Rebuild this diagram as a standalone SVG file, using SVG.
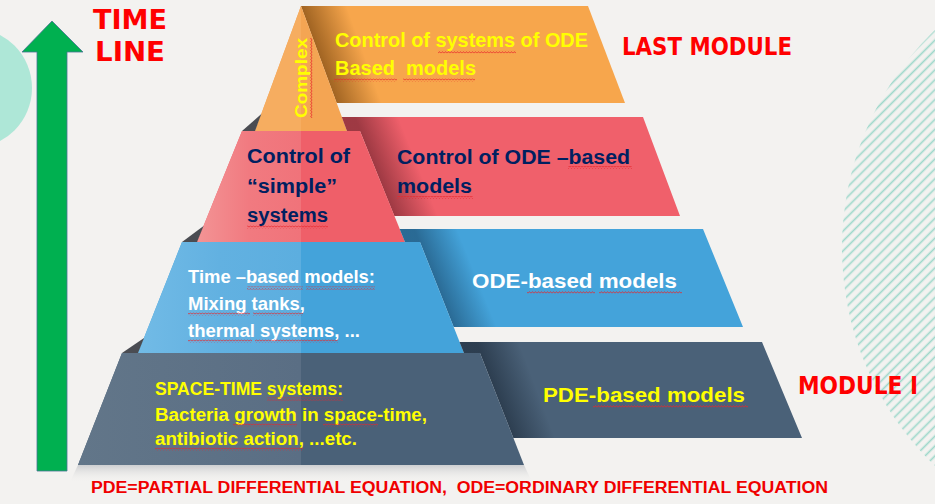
<svg xmlns="http://www.w3.org/2000/svg" width="935" height="504" viewBox="0 0 935 504">
<defs>
<style>
.title{font-family:"DejaVu Sans","Liberation Sans",sans-serif;font-weight:bold;fill:#ff0000}
.lbl{font-family:"Liberation Sans",Arial,sans-serif;font-weight:bold}
.yel{fill:#ffff00}
.navy{fill:#002060}
.wht{fill:#ffffff}
.wedge{fill:#2c2f36;opacity:.85}
.foot{font-family:"Liberation Sans",Arial,sans-serif;font-weight:bold;fill:#f00000}
.sq{fill:url(#squig)}
</style>
<pattern id="hatch" patternUnits="userSpaceOnUse" width="7" height="10" patternTransform="rotate(45)">
<line x1="3.5" y1="-1" x2="3.5" y2="11" stroke="#9fd8cb" stroke-width="1.7"/>
</pattern>
<pattern id="squig" patternUnits="userSpaceOnUse" width="3" height="3">
<path d="M0,2.4 L1.5,0.6 L3,2.4" fill="none" stroke="#e8262b" stroke-width="0.8"/>
</pattern>
<clipPath id="hatchClip"><circle cx="1144" cy="248" r="302"/></clipPath>
<linearGradient id="shOrange" gradientUnits="userSpaceOnUse" x1="324" y1="68.5" x2="364" y2="54">
<stop offset="0" stop-color="#5a2e00" stop-opacity="0.55"/><stop offset="1" stop-color="#5a2e00" stop-opacity="0"/>
</linearGradient>
<linearGradient id="shRed" gradientUnits="userSpaceOnUse" x1="382.5" y1="186" x2="420" y2="171">
<stop offset="0" stop-color="#3a0a12" stop-opacity="0.45"/><stop offset="1" stop-color="#3a0a12" stop-opacity="0"/>
</linearGradient>
<linearGradient id="shBlue" gradientUnits="userSpaceOnUse" x1="442" y1="298" x2="479" y2="283">
<stop offset="0" stop-color="#0a2540" stop-opacity="0.45"/><stop offset="1" stop-color="#0a2540" stop-opacity="0"/>
</linearGradient>
<linearGradient id="shSlate" gradientUnits="userSpaceOnUse" x1="502" y1="409" x2="539" y2="395">
<stop offset="0" stop-color="#0a1420" stop-opacity="0.45"/><stop offset="1" stop-color="#0a1420" stop-opacity="0"/>
</linearGradient>
<linearGradient id="redLeft" x1="0" y1="0" x2="1" y2="0">
<stop offset="0" stop-color="#f39495"/><stop offset="0.5" stop-color="#f17a80"/><stop offset="1" stop-color="#f0737a"/>
</linearGradient>
<linearGradient id="blueLeft" x1="0" y1="0" x2="1" y2="0">
<stop offset="0" stop-color="#72bbe6"/><stop offset="0.5" stop-color="#62b1e1"/><stop offset="1" stop-color="#5caedf"/>
</linearGradient>
<linearGradient id="slateLeft" x1="0" y1="0" x2="1" y2="0">
<stop offset="0" stop-color="#627689"/><stop offset="1" stop-color="#5a6e84"/>
</linearGradient>
<linearGradient id="reflect" x1="0" y1="0" x2="0" y2="1">
<stop offset="0" stop-color="#c4c6c9" stop-opacity="0.8"/><stop offset="1" stop-color="#f3f2f0" stop-opacity="0"/>
</linearGradient>
</defs>

<rect x="0" y="0" width="935" height="504" fill="#f3f2f0"/>

<g id="decor">
<circle cx="-28" cy="88" r="60" fill="#aee7d7"/>
<rect x="830" y="0" width="105" height="504" fill="url(#hatch)" clip-path="url(#hatchClip)"/>
</g>

<g id="timeline-arrow">
<polygon points="52,21 83,52 67,52 67,471 37,471 37,52 22,52" fill="#00b050" stroke="#4a7394" stroke-width="0.8"/>
</g>

<g id="timeline-label">
<text class="title" x="93" y="29" font-size="27" textLength="74" lengthAdjust="spacingAndGlyphs">TIME</text>
<text class="title" x="95" y="61" font-size="27" textLength="70" lengthAdjust="spacingAndGlyphs">LINE</text>
</g>

<g id="last-module-label">
<text class="title" x="622" y="55" font-size="24" textLength="170" lengthAdjust="spacingAndGlyphs">LAST MODULE</text>
</g>

<g id="module-1-label">
<text class="title" x="798" y="394" font-size="24" textLength="120" lengthAdjust="spacingAndGlyphs">MODULE I</text>
</g>

<g id="level-4-orange">
<polygon points="301,6 588,6 625,103 336.7,103" fill="#f7a64c"/>
<polygon points="301,6 588,6 625,103 336.7,103" fill="url(#shOrange)"/>
<polygon points="301,6 347,131 255,131" fill="#f4a553"/>
<polygon points="301,6 301,131 255,131" fill="#f6ad60"/>
<text class="lbl yel" x="335" y="47" font-size="20" textLength="253" lengthAdjust="spacingAndGlyphs">Control of systems of ODE</text>
<text class="lbl yel" x="335" y="75" font-size="20" textLength="141" lengthAdjust="spacingAndGlyphs" xml:space="preserve">Based  models</text>
<rect class="sq" x="438" y="50.5" width="78" height="3"/>
<rect class="sq" x="334" y="78.5" width="63" height="3"/>
<rect class="sq" x="403" y="78.5" width="72" height="3"/>
<g transform="translate(307,118) rotate(-90)">
<text class="lbl yel" x="0" y="0" font-size="17" textLength="80" lengthAdjust="spacingAndGlyphs">Complex</text>
<rect class="sq" x="0" y="3" width="80" height="3"/>
</g>
</g>

<g id="level-3-red">
<polygon points="341.8,117 643,117 680,216 394.4,216 360,131 347,131" fill="#f0606b"/>
<polygon points="341.8,117 643,117 680,216 394.4,216 360,131 347,131" fill="url(#shRed)"/>
<polygon class="wedge" points="242,131 261.3,114 255,131"/>
<polygon points="242,131 360,131 405,242 197,242" fill="#ef5f69"/>
<polygon points="242,131 301,131 301,242 197,242" fill="url(#redLeft)"/>
<text class="lbl navy" x="247" y="163" font-size="20" textLength="103" lengthAdjust="spacingAndGlyphs">Control of</text>
<text class="lbl navy" x="247" y="193" font-size="20" textLength="90" lengthAdjust="spacingAndGlyphs">“simple”</text>
<text class="lbl navy" x="247" y="222" font-size="20" textLength="81" lengthAdjust="spacingAndGlyphs">systems</text>
<rect class="sq" x="247" y="225.5" width="81" height="3"/>
<text class="lbl navy" x="397" y="164" font-size="20" textLength="233" lengthAdjust="spacingAndGlyphs">Control of ODE –based</text>
<text class="lbl navy" x="397" y="193" font-size="20" textLength="75" lengthAdjust="spacingAndGlyphs">models</text>
<rect class="sq" x="568" y="166" width="64" height="3"/>
<rect class="sq" x="397" y="196" width="76" height="3"/>
</g>

<g id="level-2-blue">
<polygon points="399.7,229 703,229 743,327 453.7,327 420,242 405,242" fill="#44a3da"/>
<polygon points="399.7,229 703,229 743,327 453.7,327 420,242 405,242" fill="url(#shBlue)"/>
<polygon class="wedge" points="182,242 203.5,226 197,242"/>
<polygon points="182,242 420,242 464,353 138,353" fill="#44a3da"/>
<polygon points="182,242 301,242 301,353 138,353" fill="url(#blueLeft)"/>
<text class="lbl wht" x="188" y="283" font-size="19" textLength="187" lengthAdjust="spacingAndGlyphs">Time –based models:</text>
<text class="lbl wht" x="188" y="310" font-size="19" textLength="117" lengthAdjust="spacingAndGlyphs">Mixing tanks,</text>
<text class="lbl wht" x="188" y="337" font-size="19" textLength="172" lengthAdjust="spacingAndGlyphs">thermal systems, ...</text>
<rect class="sq" x="247" y="286.5" width="56" height="3"/>
<rect class="sq" x="306" y="286.5" width="69" height="3"/>
<rect class="sq" x="188" y="312.5" width="62" height="3"/>
<rect class="sq" x="253" y="312.5" width="50" height="3"/>
<rect class="sq" x="188" y="339.5" width="64" height="3"/>
<rect class="sq" x="255" y="339.5" width="83" height="3"/>
<text class="lbl wht" x="472" y="288" font-size="21" textLength="205" lengthAdjust="spacingAndGlyphs">ODE-based models</text>
<rect class="sq" x="527" y="291" width="68" height="3"/>
<rect class="sq" x="599" y="291" width="83" height="3"/>
</g>

<g id="level-1-slate">
<polygon points="459.6,342 762,342 802,438 513.4,438 480,353 464,353" fill="#4a6178"/>
<polygon points="459.6,342 762,342 802,438 513.4,438 480,353 464,353" fill="url(#shSlate)"/>
<polygon class="wedge" points="122,353 144,338 138,353"/>
<polygon points="78,465 524,465 532,482 70,482" fill="url(#reflect)"/>
<polygon points="122,353 480,353 524,465 78,465" fill="#4a6178"/>
<polygon points="122,353 301,353 301,465 78,465" fill="url(#slateLeft)"/>
<text class="lbl yel" x="155" y="395" font-size="18" textLength="188" lengthAdjust="spacingAndGlyphs">SPACE-TIME systems:</text>
<text class="lbl yel" x="155" y="421" font-size="18" textLength="272" lengthAdjust="spacingAndGlyphs">Bacteria growth in space-time,</text>
<text class="lbl yel" x="155" y="445" font-size="18" textLength="202" lengthAdjust="spacingAndGlyphs">antibiotic action, ...etc.</text>
<rect class="sq" x="267" y="397.5" width="76" height="3"/>
<rect class="sq" x="233" y="423.5" width="64" height="3"/>
<rect class="sq" x="323" y="423.5" width="55" height="3"/>
<rect class="sq" x="155" y="447.5" width="148" height="3"/>
<text class="lbl yel" x="543" y="402" font-size="21" textLength="202" lengthAdjust="spacingAndGlyphs">PDE-based models</text>
<rect class="sq" x="593" y="405" width="155" height="3"/>
</g>

<g id="footnote">
<text class="foot" x="91" y="493" font-size="16" textLength="737" lengthAdjust="spacingAndGlyphs" xml:space="preserve">PDE=PARTIAL DIFFERENTIAL EQUATION,  ODE=ORDINARY DIFFERENTIAL EQUATION</text>
</g>

<g id="connectors"></g>
</svg>
